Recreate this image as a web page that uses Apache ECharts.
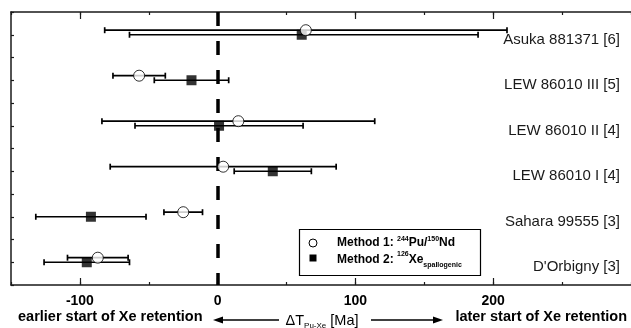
<!DOCTYPE html>
<html>
<head>
<meta charset="utf-8">
<script src="https://cdn.jsdelivr.net/npm/echarts@6/dist/echarts.min.js"></script>
<style>
html, body { margin: 0; padding: 0; background: #fff; }
#main { width: 631px; height: 328px; }
</style>
</head>
<body>
<div id="main"></div>
<script>
// meteorites, bottom to top
var rowNames = ["D'Orbigny [3]", "Sahara 99555 [3]", "LEW 86010 I [4]", "LEW 86010 II [4]", "LEW 86010 III [5]", "Asuka 881371 [6]"];
var rowPos = [1, 3, 5, 7, 9, 11];

// method 1: 244Pu/150Nd
var m1Val = [-87, -25, 4, 15, -57, 64];
var m1Low = [-109, -39, -78, -84, -76, -82];
var m1High = [-65, -11, 86, 114, -38, 210];

// method 2: 126Xe spallogenic
var m2Val = [-95, -92, 40, 1, -19, 61];
var m2Low = [-126, -132, 12, -60, -46, -64];
var m2High = [-64, -52, 68, 62, 8, 189];

var majorTicks = [-100, 0, 100, 200];

var M1_SHIFT = 0.2;   // circles sit a little above the squares
var FONT = "'Liberation Sans', Arial, sans-serif";

var chart = echarts.init(document.getElementById('main'));

function barData(low, high, shift) {
    var out = [];
    for (var i = 0; i < rowPos.length; i++) {
        out.push([rowPos[i] + shift, low[i], high[i]]);
    }
    return out;
}
function pointData(vals, shift) {
    var out = [];
    for (var i = 0; i < rowPos.length; i++) {
        out.push([vals[i], rowPos[i] + shift]);
    }
    return out;
}

function renderBar(params, api) {
    var y = api.value(0);
    var a = api.coord([api.value(1), y]);
    var b = api.coord([api.value(2), y]);
    var cap = 3;
    var st = { stroke: '#000', lineWidth: 1.7 };
    return {
        type: 'group',
        children: [
            { type: 'line', shape: { x1: a[0], y1: a[1], x2: b[0], y2: b[1] }, style: st },
            { type: 'line', shape: { x1: a[0], y1: a[1] - cap, x2: a[0], y2: a[1] + cap }, style: st },
            { type: 'line', shape: { x1: b[0], y1: b[1] - cap, x2: b[0], y2: b[1] + cap }, style: st }
        ]
    };
}

var axisLine = { show: true, onZero: false, lineStyle: { color: '#1a1a1a', width: 1.5 } };
var noLine = { show: false, onZero: false };

option = {
    animation: false,
    grid: [
        { left: 11, top: 12, width: 625, bottom: 43 },
        { left: 11, top: 12, width: 625, bottom: 43 }
    ],
    xAxis: [
        {
            gridIndex: 0, type: 'value', position: 'bottom', min: -150, max: 300, interval: 50,
            axisLine: axisLine,
            axisTick: { inside: true, length: 3, lineStyle: { color: '#1a1a1a', width: 1.2 } },
            axisLabel: {
                customValues: majorTicks, margin: 9, color: '#000',
                fontFamily: FONT, fontSize: 14, fontWeight: 'bold'
            },
            splitLine: { show: false }
        },
        {
            gridIndex: 0, type: 'value', position: 'top', min: -150, max: 300, interval: 50,
            axisLine: axisLine,
            axisTick: { inside: true, length: 3, lineStyle: { color: '#1a1a1a', width: 1.2 } },
            axisLabel: { show: false },
            splitLine: { show: false }
        },
        {
            gridIndex: 1, type: 'value', position: 'bottom', min: -150, max: 300,
            axisLine: noLine,
            axisTick: { customValues: majorTicks, inside: true, length: 7, lineStyle: { color: '#1a1a1a', width: 1.2 } },
            axisLabel: { show: false },
            splitLine: { show: false }
        },
        {
            gridIndex: 1, type: 'value', position: 'top', min: -150, max: 300,
            axisLine: noLine,
            axisTick: { customValues: majorTicks, inside: true, length: 7, lineStyle: { color: '#1a1a1a', width: 1.2 } },
            axisLabel: { show: false },
            splitLine: { show: false }
        }
    ],
    yAxis: [
        {
            gridIndex: 0, type: 'value', position: 'left', min: 0, max: 12, interval: 1,
            axisLine: axisLine,
            axisTick: { inside: true, length: 3, lineStyle: { color: '#1a1a1a', width: 1.2 } },
            axisLabel: { show: false },
            splitLine: { show: false }
        },
        {
            gridIndex: 0, type: 'value', position: 'right', min: 0, max: 12, interval: 1,
            axisLine: noLine,
            axisTick: { show: false },
            axisLabel: {
                inside: true, margin: 11, color: '#1a1a1a',
                verticalAlign: 'top', lineHeight: 10,
                fontFamily: FONT, fontSize: 15,
                formatter: function (v) {
                    var k = rowPos.indexOf(v);
                    return k >= 0 ? rowNames[k] : '';
                }
            },
            splitLine: { show: false }
        },
        {
            gridIndex: 1, type: 'value', min: 0, max: 12, show: false,
            axisLine: noLine
        }
    ],
    series: [
        {
            type: 'custom', name: 'bars1', xAxisIndex: 0, yAxisIndex: 0,
            renderItem: renderBar, encode: { x: [1, 2], y: 0 },
            data: barData(m1Low, m1High, M1_SHIFT), z: 2
        },
        {
            type: 'custom', name: 'bars2', xAxisIndex: 0, yAxisIndex: 0,
            renderItem: renderBar, encode: { x: [1, 2], y: 0 },
            data: barData(m2Low, m2High, 0), z: 2,
            markLine: {
                silent: true, symbol: 'none', z: 3,
                label: { show: false },
                lineStyle: { color: '#000', width: 3.5, type: [14, 15] },
                data: [[{ coord: [0, 12] }, { coord: [0, 0] }]]
            }
        },
        {
            type: 'scatter', name: 'Method 2', xAxisIndex: 0, yAxisIndex: 0,
            symbol: 'rect', symbolSize: 10, z: 4,
            itemStyle: { color: '#000' },
            data: pointData(m2Val, 0)
        },
        {
            type: 'scatter', name: 'Method 1', xAxisIndex: 0, yAxisIndex: 0,
            symbol: 'circle', symbolSize: 11, z: 5,
            itemStyle: { color: '#fff', borderColor: '#000', borderWidth: 1 },
            data: pointData(m1Val, M1_SHIFT)
        }
    ],
    graphic: [
        // legend
        { type: 'rect', z: 10, shape: { x: 299.5, y: 229.5, width: 181, height: 46 },
          style: { fill: '#fff', stroke: '#000', lineWidth: 1.2 } },
        { type: 'circle', z: 11, shape: { cx: 313, cy: 243, r: 4 },
          style: { fill: '#fff', stroke: '#000', lineWidth: 1 } },
        { type: 'rect', z: 11, shape: { x: 309.5, y: 254.5, width: 7, height: 7 },
          style: { fill: '#000' } },
        { type: 'text', z: 11, x: 337, y: 243,
          style: {
              text: '{b|Method 1: }{p|244}{b|Pu/}{p|150}{b|Nd}',
              verticalAlign: 'middle', fill: '#000',
              rich: {
                  b: { fontFamily: FONT, fontSize: 12, fontWeight: 'bold', lineHeight: 15 },
                  p: { fontFamily: FONT, fontSize: 7, fontWeight: 'bold', verticalAlign: 'top', lineHeight: 8 }
              }
          } },
        { type: 'text', z: 11, x: 337, y: 260,
          style: {
              text: '{b|Method 2: }{p|126}{b|Xe}{s|spallogenic}',
              verticalAlign: 'middle', fill: '#000',
              rich: {
                  b: { fontFamily: FONT, fontSize: 12, fontWeight: 'bold', lineHeight: 18 },
                  p: { fontFamily: FONT, fontSize: 7, fontWeight: 'bold', verticalAlign: 'top', lineHeight: 12 },
                  s: { fontFamily: FONT, fontSize: 7, fontWeight: 'bold', verticalAlign: 'bottom', lineHeight: 8 }
              }
          } },
        // bottom caption
        { type: 'text', x: 18, y: 317,
          style: { text: 'earlier start of Xe retention', fontFamily: FONT, fontSize: 14.5, fontWeight: 'bold',
                   fill: '#000', align: 'left', verticalAlign: 'middle' } },
        { type: 'text', x: 627, y: 317,
          style: { text: 'later start of Xe retention', fontFamily: FONT, fontSize: 14.5, fontWeight: 'bold',
                   fill: '#000', align: 'right', verticalAlign: 'middle' } },
        { type: 'line', shape: { x1: 219, y1: 320, x2: 279, y2: 320 }, style: { stroke: '#000', lineWidth: 1.5 } },
        { type: 'polygon', shape: { points: [[213, 320], [223, 316.5], [223, 323.5]] }, style: { fill: '#000' } },
        { type: 'line', shape: { x1: 371, y1: 320, x2: 437, y2: 320 }, style: { stroke: '#000', lineWidth: 1.5 } },
        { type: 'polygon', shape: { points: [[443, 320], [433, 316.5], [433, 323.5]] }, style: { fill: '#000' } },
        { type: 'text', x: 322, y: 321,
          style: {
              text: '{n|ΔT}{s|Pu-Xe}{n| [Ma]}', align: 'center', verticalAlign: 'middle', fill: '#000',
              rich: {
                  n: { fontFamily: FONT, fontSize: 14.5, lineHeight: 18 },
                  s: { fontFamily: FONT, fontSize: 8, verticalAlign: 'bottom', lineHeight: 8 }
              }
          } }
    ]
};

chart.setOption(option);
</script>
</body>
</html>
